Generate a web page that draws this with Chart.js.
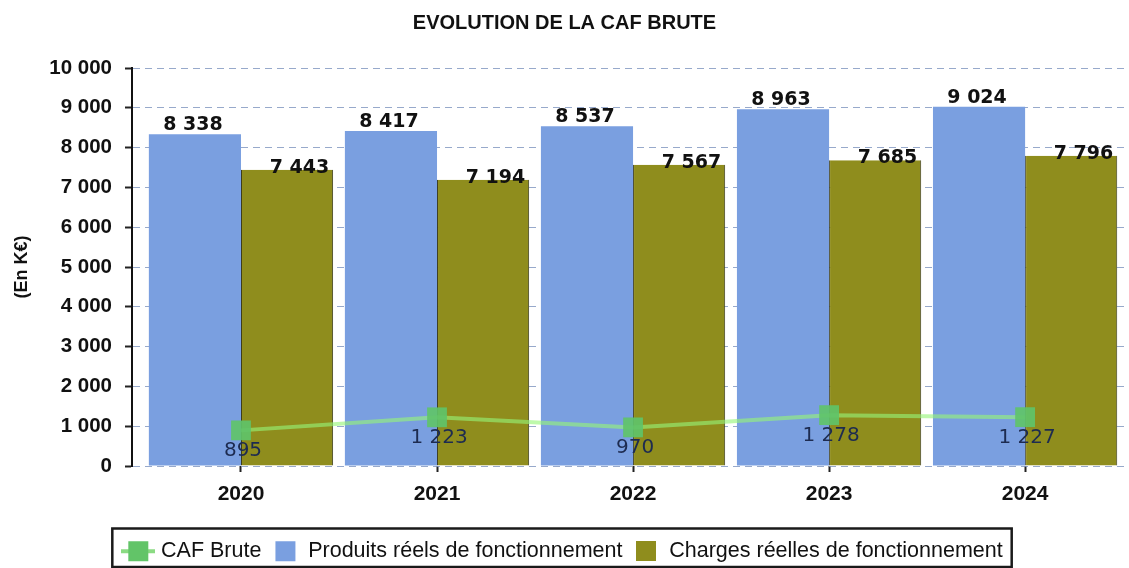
<!DOCTYPE html>
<html><head><meta charset="utf-8">
<script src="https://cdn.jsdelivr.net/npm/chart.js@4/dist/chart.umd.min.js"></script>
<style>html,body{margin:0;padding:0;background:#fff;overflow:hidden}#wrap{width:1129px;height:568px;position:relative;overflow:hidden}</style>
</head><body><div id="wrap"><canvas id="c" width="1129" height="572"></canvas></div>
<script>
const years = [2020, 2021, 2022, 2023, 2024];
const cafBrute = [895, 1223, 970, 1278, 1227];
const produits = [8338, 8417, 8537, 8963, 9024];
const charges = [7443, 7194, 7567, 7685, 7796];
const yTickValues = [0, 1000, 2000, 3000, 4000, 5000, 6000, 7000, 8000, 9000, 10000];
const seriesNames = ['CAF Brute', 'Produits réels de fonctionnement', 'Charges réelles de fonctionnement'];
const chartTitle = 'EVOLUTION DE LA CAF BRUTE';
const yTitle = '(En K€)';

const COLORS = { caf: 'rgb(98,196,104)', cafLine: 'rgba(150,245,120,0.62)', prod: '#7a9fe0', charg: '#8f8d1d' };

function fmt(v) { return String(Math.round(v)).replace(/\B(?=(\d{3})+(?!\d))/g, ' '); }

const SANS = 'Liberation Sans, Arial, sans-serif';

function makeMarker(w, h, fill, lineColor) {
  const c = document.createElement('canvas');
  c.width = w; c.height = h;
  const x = c.getContext('2d');
  if (lineColor) {
    x.fillStyle = lineColor;
    x.fillRect(0, h / 2 - 2, w, 4);
  }
  x.fillStyle = fill;
  const s = Math.min(h, 20);
  x.fillRect((w - s) / 2, (h - s) / 2, s, s);
  return c;
}
const legendMarkers = [
  makeMarker(34, 22, COLORS.caf, 'rgba(110,210,100,0.8)'),
  makeMarker(22, 22, COLORS.prod),
  makeMarker(20, 20, COLORS.charg)
];

const valueLabels = {
  id: 'valueLabels',
  afterDatasetsDraw(chart) {
    const ctx = chart.ctx;
    chart.data.datasets.forEach((ds, di) => {
      const meta = chart.getDatasetMeta(di);
      meta.data.forEach((el, i) => {
        const txt = fmt(ds.data[i]);
        ctx.save();
        ctx.textBaseline = 'alphabetic';
        if (ds.labelMode === 'below') {
          ctx.font = '20px "DejaVu Sans"';
          ctx.fillStyle = '#1d2b50';
          ctx.textAlign = 'center';
          ctx.fillText(txt, el.x + 2, el.y + 26);
        } else if (ds.labelMode === 'above') {
          ctx.font = 'bold 19px "DejaVu Sans"';
          ctx.fillStyle = '#111';
          ctx.textAlign = 'center';
          ctx.fillText(txt, el.x - 2, el.y - 4);
        } else {
          ctx.font = 'bold 19px "DejaVu Sans"';
          ctx.fillStyle = '#111';
          ctx.textAlign = 'right';
          ctx.fillText(txt, el.x + el.width / 2 - 4, el.y + 3);
        }
        ctx.restore();
      });
    });
  }
};

const legendBorder = {
  id: 'legendBorder',
  afterDraw(chart) {
    const lg = chart.legend;
    if (!lg || !lg.legendHitBoxes || !lg.legendHitBoxes.length) return;
    const hb = lg.legendHitBoxes;
    let l = Infinity, r = -Infinity, t = Infinity;
    hb.forEach(h => { l = Math.min(l, h.left); r = Math.max(r, h.left + h.width); t = Math.min(t, h.top); });
    const ctx = chart.ctx;
    ctx.save();
    ctx.strokeStyle = '#1a1a1a';
    ctx.lineWidth = 2.5;
    ctx.strokeRect(l - 14, t - 12, (r - l) + 23, 567 - (t - 12));
    ctx.restore();
  }
};

new Chart(document.getElementById('c'), {
  type: 'bar',
  data: {
    labels: years,
    datasets: [
      {
        type: 'line', label: seriesNames[0], data: cafBrute, order: 0, labelMode: 'below',
        borderColor: COLORS.cafLine, backgroundColor: COLORS.caf, borderWidth: 4,
        pointStyle: 'rect', pointRadius: 14, pointHoverRadius: 14,
        pointBackgroundColor: 'rgba(95,195,105,0.92)', pointBorderWidth: 0, tension: 0, fill: false
      },
      {
        label: seriesNames[1], data: produits, order: 1, labelMode: 'above',
        backgroundColor: COLORS.prod, borderWidth: 0,
        barPercentage: 1, categoryPercentage: 0.94
      },
      {
        label: seriesNames[2], data: charges, order: 1, labelMode: 'aboveRight',
        backgroundColor: COLORS.charg, borderColor: '#3c3c1c', borderWidth: {left: 1, right: 1, top: 0, bottom: 0},
        barPercentage: 1, categoryPercentage: 0.94
      }
    ]
  },
  options: {
    responsive: false, animation: false, events: [],
    layout: { autoPadding: false, padding: { left: 0, right: 0, top: 0, bottom: 0 } },
    scales: {
      x: {
        type: 'linear', offset: false,
        min: years[0] - 0.556, max: years[years.length - 1] + 0.53,
        afterBuildTicks: s => { s.ticks = years.map(v => ({ value: v })); },
        ticks: { callback: v => String(v), font: { family: SANS, size: 21, weight: 'bold' }, color: '#111', padding: 10, autoSkip: false, maxRotation: 0, includeBounds: false },
        grid: { drawOnChartArea: false, drawTicks: true, tickLength: 6, tickColor: '#222', tickWidth: 2, offset: false },
        border: { display: false },
        afterFit: s => { s.height = 62.5; s.paddingLeft = 0; s.paddingRight = 0; }
      },
      y: {
        min: 0, max: 10000,
        afterBuildTicks: s => { s.ticks = yTickValues.map(v => ({ value: v })); },
        ticks: { callback: v => fmt(v), font: { family: SANS, size: 20.5, weight: 'bold' }, color: '#111', padding: 13 },
        grid: { color: 'rgba(125,148,190,0.8)', lineWidth: 1, tickLength: 7, tickColor: '#222', tickWidth: 2, tickBorderDash: [] },
        border: { display: true, color: '#111', width: 2, dash: [7, 5] },
        title: { display: true, text: yTitle, font: { family: SANS, size: 18, weight: 'bold' }, color: '#111', padding: { top: 11, bottom: 0 } },
        afterFit: s => { s.width = 132; }
      }
    },
    plugins: {
      tooltip: { enabled: false },
      title: { display: true, text: chartTitle, font: { family: SANS, size: 20, weight: 'bold' }, color: '#111', padding: { top: 11.5, bottom: 32.5 } },
      legend: {
        position: 'bottom',
        labels: {
          font: { family: SANS, size: 21.5 }, color: '#111', usePointStyle: true, pointStyleWidth: 24, boxHeight: 21, padding: 12,
          generateLabels: chart => Chart.defaults.plugins.legend.labels.generateLabels(chart).map((it, i) => Object.assign(it, { lineWidth: 0, strokeStyle: 'transparent', pointStyle: legendMarkers[it.datasetIndex] }))
        }
      }
    }
  },
  plugins: [valueLabels, legendBorder]
});
</script></body></html>
